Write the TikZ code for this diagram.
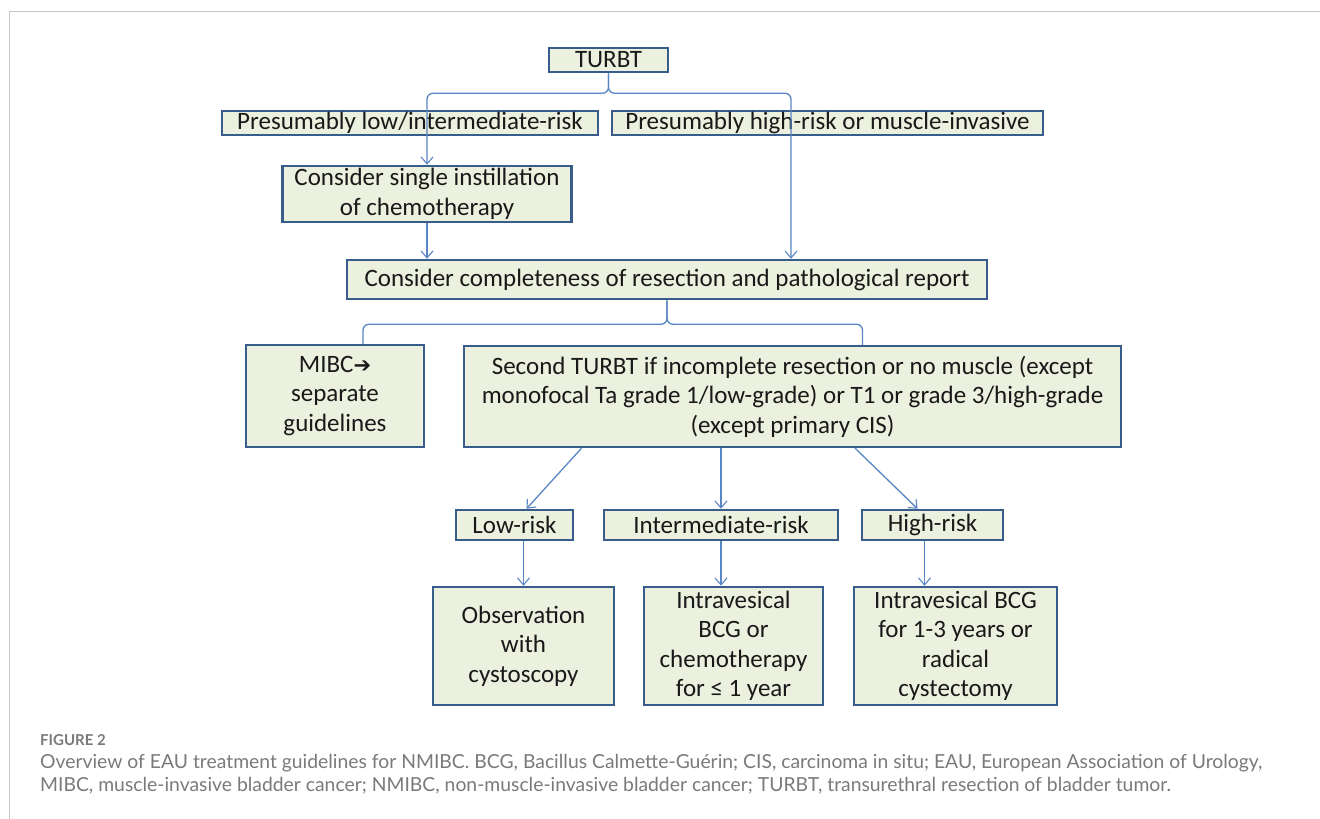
\documentclass[tikz,border=0pt]{standalone}
\usepackage{fontspec}
\setmainfont{Carlito}
\newfontfamily\capfont{Lato}
\newfontfamily\symfont{DejaVu Sans}
\usetikzlibrary{arrows.meta,calc}
\definecolor{boxfill}{HTML}{EBF1DE}
\definecolor{boxline}{HTML}{385D8A}
\definecolor{connclr}{HTML}{5A86C4}
\definecolor{captxt}{HTML}{7A7A7A}
\definecolor{frameclr}{HTML}{C8C8C8}
\newlength\capw
\newcommand\capone{Overview of EAU treatment guidelines for NMIBC. BCG, Bacillus Calmette-Guérin; CIS, carcinoma in situ; EAU, European Association of Urology,}
\newcommand\captwo{MIBC, muscle-invasive bladder cancer; NMIBC, non-muscle-invasive bladder cancer; TURBT, transurethral resection of bladder tumor.}
\AtBeginDocument{%
  \settowidth\capw{\capfont\fontsize{10}{12}\selectfont\capone}%
  \pgfmathsetmacro\capsize{1222/\capw*10}%
  \xdef\capsize{\capsize}}
\begin{document}
\begin{tikzpicture}[x=1pt,y=-1pt,
  box/.style={draw=boxline, line width=2.5pt, fill=boxfill, inner sep=0pt, align=center,
    text=black!90, font=\fontsize{25}{29.5}\selectfont},
  link/.style={draw=connclr, line width=1.3pt},
  arr/.style={link, -{Straight Barb[length=7pt,width=12pt,line width=1.1pt]}},
  captext/.style={anchor=west, text=captxt, inner sep=0pt},
]
\useasboundingbox (0,0) rectangle (1320,819);
\fill[white] (0,0) rectangle (1320,819);
\draw[frameclr, line width=1pt] (9.5,819) -- (9.5,11.5) -- (1320,11.5);

% nodes
\node[box, minimum width=119pt, minimum height=24pt] (turbt) at (608.5,60) {TURBT};
\node[box, minimum width=376pt, minimum height=24pt] (plow) at (410,123) {Presumably low/intermediate-risk};
\node[box, minimum width=431pt, minimum height=24pt] (phigh) at (827.5,123) {Presumably high-risk or muscle-invasive};
\node[box, minimum width=289pt, minimum height=56pt] (single) at (427,194) {Consider single instillation\\of chemotherapy};
\node[box, minimum width=640pt, minimum height=39pt] (compl) at (667,279.5) {Consider completeness of resection and pathological report};
\node[box, minimum width=178pt, minimum height=102pt] (mibc) at (335,396) {MIBC{\symfont\fontsize{21}{29.5}\selectfont ➔}\\separate\\guidelines};
\node[box, minimum width=657pt, minimum height=101pt] (second) at (792.5,396.5) {Second TURBT if incomplete resection or no muscle (except\\monofocal Ta grade 1/low-grade) or T1 or grade 3/high-grade\\(except primary CIS)};
\node[box, minimum width=117pt, minimum height=30pt] (low) at (514.5,525) {Low-risk};
\node[box, minimum width=234pt, minimum height=30pt] (inter) at (721,525) {Intermediate-risk};
\node[box, minimum width=141pt, minimum height=30pt] (high) at (932.5,525) {High-risk};
\node[box, minimum width=181pt, minimum height=118pt] (obs) at (523.5,646) {Observation\\with\\cystoscopy};
\node[box, minimum width=179pt, minimum height=118pt] (ibcg) at (733.5,646) {Intravesical\\BCG or\\chemotherapy\\for ≤ 1 year};
\node[box, minimum width=203pt, minimum height=118pt] (third) at (955.5,646) {Intravesical BCG\\for 1-3 years or\\radical\\cystectomy};

% upper brace
\draw[arr, rounded corners=6pt] (turbt.south) -- ++(0,20) -| (single.north);
\draw[arr, rounded corners=6pt] (turbt.south) -- ++(0,20) -| ($(compl.north)+(124,0)$);
\draw[arr] (single.south) -- (single.south |- compl.north);

% lower brace
\draw[link, rounded corners=6pt] (compl.south) -- ++(0,24) -| ($(mibc.north)+(28,0)$);
\draw[link, rounded corners=6pt] (compl.south) -- ++(0,24) -| ($(second.north)+(70,0)$);

% risk arrows
\draw[arr] ($(second.south west)!0.18!(second.south east)$) -- ($(low.north)+(12,0)$);
\draw[arr] (second.south -| inter.north) -- (inter.north);
\draw[arr] ($(second.south west)!0.595!(second.south east)$) -- ($(high.north)+(-15,0)$);
\draw[arr] (obs.north |- low.south) -- (obs.north);
\draw[arr] (inter.south) -- (inter.south |- ibcg.north);
\draw[arr] ($(high.south)+(-8,0)$) coordinate (hs) -- (hs |- third.north);

% caption
\node[captext, font=\capfont\bfseries\fontsize{15}{18}\selectfont] (fig) at (40,740) {FIGURE 2};
\node[captext, font=\capfont\fontsize{\capsize}{20}\selectfont] (cap1) at (40,763) {\capone};
\node[captext, font=\capfont\fontsize{\capsize}{20}\selectfont] (cap2) at (40,786) {\captwo};
\end{tikzpicture}
\end{document}
